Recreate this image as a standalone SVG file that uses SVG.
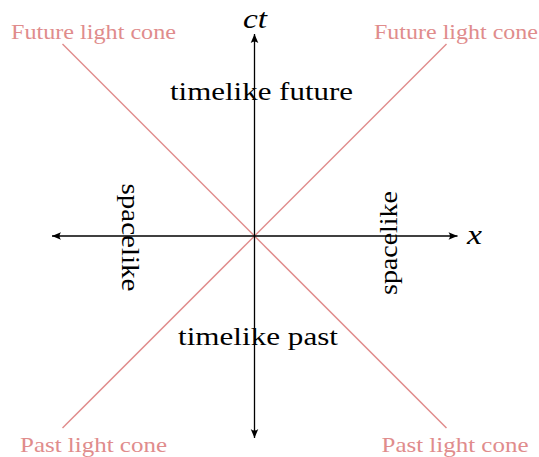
<svg xmlns="http://www.w3.org/2000/svg" width="539" height="457" viewBox="0 0 539 457">
<style>
.axis{stroke:#000;stroke-width:1.3;fill:none}
.cone{stroke:#e08c8c;stroke-width:1.5;fill:none}
text{font-family:'Liberation Serif','DejaVu Serif',serif;text-anchor:middle}
.lbl{font-size:26px;fill:#000}
.math{font-style:italic;font-size:28px;fill:#000}
.pink{font-size:22px;fill:#e08c8c}
</style>
<defs>
<marker id="arr" viewBox="-10 -5 12 10" refX="0" refY="0" markerWidth="12" markerHeight="10" markerUnits="userSpaceOnUse" orient="auto">
<path d="M0,0 L-9,-3.8 Q-6,0 -9,3.8 Z" fill="#000"/>
</marker>
</defs>
<g id="connectors">
<line class="cone" x1="62.5" y1="44" x2="446.5" y2="428"/>
<line class="cone" x1="446.5" y1="44" x2="62.5" y2="428"/>
<line class="axis" x1="254.5" y1="236" x2="254.5" y2="34" marker-end="url(#arr)"/>
<line class="axis" x1="254.5" y1="236" x2="254.5" y2="438" marker-end="url(#arr)"/>
<line class="axis" x1="254.5" y1="236" x2="52" y2="236" marker-end="url(#arr)"/>
<line class="axis" x1="254.5" y1="236" x2="457.5" y2="236" marker-end="url(#arr)"/>
</g>
<g id="label-ct"><text class="math" x="255" y="28" textLength="24" lengthAdjust="spacingAndGlyphs">ct</text></g>
<g id="label-x"><text class="math" x="474.5" y="244" textLength="15" lengthAdjust="spacingAndGlyphs">x</text></g>
<g id="timelike-future"><text class="lbl" x="261.5" y="99.5" textLength="183" lengthAdjust="spacingAndGlyphs">timelike future</text></g>
<g id="timelike-past"><text class="lbl" x="258" y="344.5" textLength="160" lengthAdjust="spacingAndGlyphs">timelike past</text></g>
<g id="spacelike-left"><text class="lbl" transform="translate(122,237.5) rotate(90)" x="0" y="0" textLength="108" lengthAdjust="spacingAndGlyphs">spacelike</text></g>
<g id="spacelike-right"><text class="lbl" transform="translate(397,243) rotate(-90)" x="0" y="0" textLength="104" lengthAdjust="spacingAndGlyphs">spacelike</text></g>
<g id="future-cone-left"><text class="pink" x="93.5" y="39" textLength="165" lengthAdjust="spacingAndGlyphs">Future light cone</text></g>
<g id="future-cone-right"><text class="pink" x="456" y="39" textLength="164" lengthAdjust="spacingAndGlyphs">Future light cone</text></g>
<g id="past-cone-left"><text class="pink" x="93.5" y="452" textLength="147" lengthAdjust="spacingAndGlyphs">Past light cone</text></g>
<g id="past-cone-right"><text class="pink" x="455" y="452" textLength="147" lengthAdjust="spacingAndGlyphs">Past light cone</text></g>
</svg>
